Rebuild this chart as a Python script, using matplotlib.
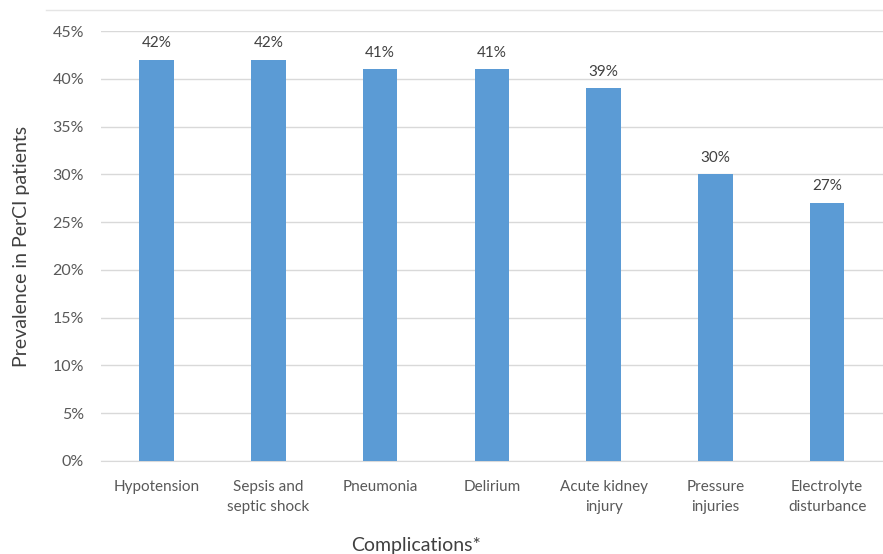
import matplotlib.pyplot as plt
from matplotlib.lines import Line2D

categories = ["Hypotension", "Sepsis and\nseptic shock", "Pneumonia", "Delirium",
              "Acute kidney\ninjury", "Pressure\ninjuries", "Electrolyte\ndisturbance"]
prevalence = [42, 42, 41, 41, 39, 30, 27]
yticks = [0, 5, 10, 15, 20, 25, 30, 35, 40, 45]

plt.rcParams['font.family'] = ['Lato', 'DejaVu Sans']

fig = plt.figure(figsize=(8.83, 5.54), dpi=100)
ax = fig.add_axes([0.114, 0.168, 0.886, 0.776])

x = range(len(categories))
ax.bar(x, prevalence, width=0.31, color="#5B9BD5", zorder=3)
for i, v in zip(x, prevalence):
    ax.text(i, v + 1.0, f"{v}%", ha="center", va="bottom", fontsize=11, color="#404040")

ax.set_xlim(-0.5, 6.5)
ax.set_ylim(0, 45)
ax.set_yticks(yticks)
ax.set_yticklabels([f"{t}%" for t in yticks], fontsize=11.5)
ax.set_xticks(list(x))
ax.set_xticklabels(categories, fontsize=11, linespacing=1.55)
ax.tick_params(axis="both", length=0, labelcolor="#595959")
ax.tick_params(axis="x", pad=14)
ax.tick_params(axis="y", pad=12)
ax.grid(axis="y", color="#D9D9D9", linewidth=1, zorder=0)
for s in ["top", "right", "left"]:
    ax.spines[s].set_visible(False)
ax.spines["bottom"].set_color("#D9D9D9")

ax.set_ylabel("Prevalence in PerCI patients", fontsize=14, color="#404040", labelpad=16)
fig.text(416 / 883, 1 - 545 / 554, "Complications*", ha="center", va="center",
         fontsize=14, color="#404040")

fig.add_artist(Line2D([46 / 883, 1], [1 - 10 / 554, 1 - 10 / 554], color="#E5E5E5",
                      linewidth=1, transform=fig.transFigure))

fig.savefig("out.png", dpi=100)
